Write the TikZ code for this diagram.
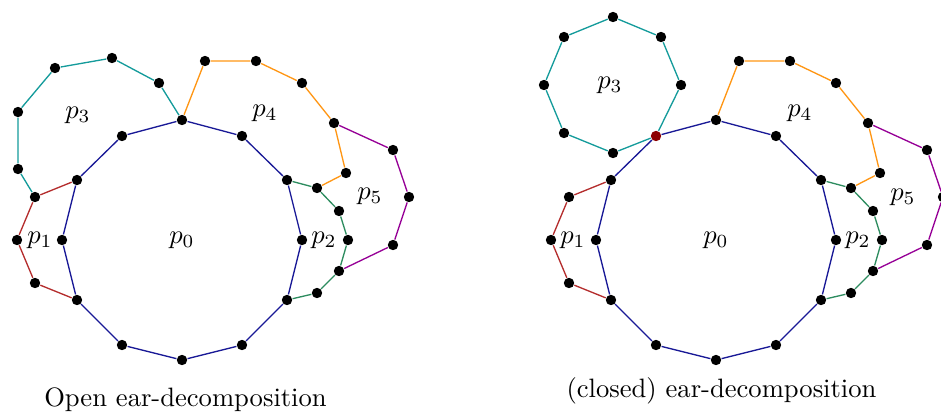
\documentclass[tikz,border=0pt]{standalone}
\definecolor{cblue}{RGB}{25,25,150}
\definecolor{cred}{RGB}{180,45,45}
\definecolor{cteal}{RGB}{20,155,155}
\definecolor{corange}{RGB}{255,150,20}
\definecolor{cgreen}{RGB}{45,140,95}
\definecolor{cpurple}{RGB}{150,0,150}
\definecolor{cdotred}{RGB}{140,0,0}
\begin{document}
\begin{tikzpicture}[x=0.376pt,y=-0.376pt,
  vtx/.style={circle,fill=black,inner sep=0pt,minimum size=3.9pt},
  rvtx/.style={vtx,fill=cdotred},
  ln/.style={line width=0.5pt},
  lbl/.style={inner sep=0pt,font=\normalsize},
  captext/.style={anchor=base,inner sep=0pt}]
\useasboundingbox (0,0) rectangle (941,412);
\clip (0,0) rectangle (941,412);

% ---------------- Left panel: open ear-decomposition
\begin{scope}
\node[vtx] (LA0) at (182,120) {};
\node[vtx] (LA1) at (242,136) {};
\node[vtx] (LA2) at (287,180) {};
\node[vtx] (LA3) at (302,240) {};
\node[vtx] (LA4) at (287,300) {};
\node[vtx] (LA5) at (242,345) {};
\node[vtx] (LA6) at (182,360) {};
\node[vtx] (LA7) at (122,345) {};
\node[vtx] (LA8) at (77,300) {};
\node[vtx] (LA9) at (62,240) {};
\node[vtx] (LA10) at (77,180) {};
\node[vtx] (LA11) at (122,136) {};
\node[vtx] (LB1) at (35,197) {};
\node[vtx] (LB2) at (17,240) {};
\node[vtx] (LB3) at (35,283) {};
\node[vtx] (LC1) at (18,169) {};
\node[vtx] (LC2) at (18,112) {};
\node[vtx] (LC3) at (55,68) {};
\node[vtx] (LC4) at (112,58) {};
\node[vtx] (LC5) at (159,83) {};
\node[vtx] (LD1) at (205,61) {};
\node[vtx] (LD2) at (256,61) {};
\node[vtx] (LD3) at (302,83) {};
\node[vtx] (LD4) at (334,123) {};
\node[vtx] (LD5) at (346,173) {};
\node[vtx] (LE1) at (317,188) {};
\node[vtx] (LE2) at (339,211) {};
\node[vtx] (LE3) at (348,240) {};
\node[vtx] (LE4) at (339,271) {};
\node[vtx] (LE5) at (317,293) {};
\node[vtx] (LF1) at (393,150) {};
\node[vtx] (LF2) at (409,197) {};
\node[vtx] (LF3) at (393,245) {};

\draw[ln,cblue] (LA0)--(LA1)--(LA2)--(LA3)--(LA4)--(LA5)--(LA6)--(LA7)--(LA8)--(LA9)--(LA10)--(LA11)--(LA0);
\draw[ln,cred] (LA10)--(LB1)--(LB2)--(LB3)--(LA8);
\draw[ln,cteal] (LB1)--(LC1)--(LC2)--(LC3)--(LC4)--(LC5)--(LA0);
\draw[ln,corange] (LA0)--(LD1)--(LD2)--(LD3)--(LD4)--(LD5)--(LE1);
\draw[ln,cgreen] (LA2)--(LE1)--(LE2)--(LE3)--(LE4)--(LE5)--(LA4);
\draw[ln,cpurple] (LD4)--(LF1)--(LF2)--(LF3)--(LE4);

\node[lbl] (Lp0) at (182,240) {$p_0$};
\node[lbl] (Lp1) at (40,240) {$p_1$};
\node[lbl] (Lp2) at (324,240) {$p_2$};
\node[lbl] (Lp3) at (78,115) {$p_3$};
\node[lbl] (Lp4) at (265,113) {$p_4$};
\node[lbl] (Lp5) at (370,196) {$p_5$};
\node[captext] (Lcap) at (185.5,406.7) {Open ear-decomposition};
\end{scope}

% ---------------- Right panel: closed ear-decomposition
\begin{scope}[shift={(534,0)}]
\node[vtx] (RA0) at (182,120) {};
\node[vtx] (RA1) at (242,136) {};
\node[vtx] (RA2) at (287,180) {};
\node[vtx] (RA3) at (302,240) {};
\node[vtx] (RA4) at (287,300) {};
\node[vtx] (RA5) at (242,345) {};
\node[vtx] (RA6) at (182,360) {};
\node[vtx] (RA7) at (122,345) {};
\node[vtx] (RA8) at (77,300) {};
\node[vtx] (RA9) at (62,240) {};
\node[vtx] (RA10) at (77,180) {};
\node[rvtx] (RA11) at (122,136) {};
\node[vtx] (RB1) at (35,197) {};
\node[vtx] (RB2) at (17,240) {};
\node[vtx] (RB3) at (35,283) {};
\node[vtx] (RC1) at (147,85) {};
\node[vtx] (RC2) at (127,37) {};
\node[vtx] (RC3) at (79,17) {};
\node[vtx] (RC4) at (30,37) {};
\node[vtx] (RC5) at (10,85) {};
\node[vtx] (RC6) at (30,133) {};
\node[vtx] (RC7) at (79,153) {};
\node[vtx] (RD1) at (205,61) {};
\node[vtx] (RD2) at (256,61) {};
\node[vtx] (RD3) at (302,83) {};
\node[vtx] (RD4) at (334,123) {};
\node[vtx] (RD5) at (346,173) {};
\node[vtx] (RE1) at (317,188) {};
\node[vtx] (RE2) at (339,211) {};
\node[vtx] (RE3) at (348,240) {};
\node[vtx] (RE4) at (339,271) {};
\node[vtx] (RE5) at (317,293) {};
\node[vtx] (RF1) at (393,150) {};
\node[vtx] (RF2) at (409,197) {};
\node[vtx] (RF3) at (393,245) {};

\draw[ln,cblue] (RA0)--(RA1)--(RA2)--(RA3)--(RA4)--(RA5)--(RA6)--(RA7)--(RA8)--(RA9)--(RA10)--(RA11)--(RA0);
\draw[ln,cred] (RA10)--(RB1)--(RB2)--(RB3)--(RA8);
\draw[ln,cteal] (RA11)--(RC1)--(RC2)--(RC3)--(RC4)--(RC5)--(RC6)--(RC7)--(RA11);
\draw[ln,corange] (RA0)--(RD1)--(RD2)--(RD3)--(RD4)--(RD5)--(RE1);
\draw[ln,cgreen] (RA2)--(RE1)--(RE2)--(RE3)--(RE4)--(RE5)--(RA4);
\draw[ln,cpurple] (RD4)--(RF1)--(RF2)--(RF3)--(RE4);

\node[lbl] (Rp0) at (182,240) {$p_0$};
\node[lbl] (Rp1) at (39,240) {$p_1$};
\node[lbl] (Rp2) at (324,240) {$p_2$};
\node[lbl] (Rp3) at (76,85) {$p_3$};
\node[lbl] (Rp4) at (266,113) {$p_4$};
\node[lbl] (Rp5) at (369,197) {$p_5$};
\node[captext] (Rcap) at (187.5,397) {(closed) ear-decomposition};
\end{scope}
\end{tikzpicture}
\end{document}
